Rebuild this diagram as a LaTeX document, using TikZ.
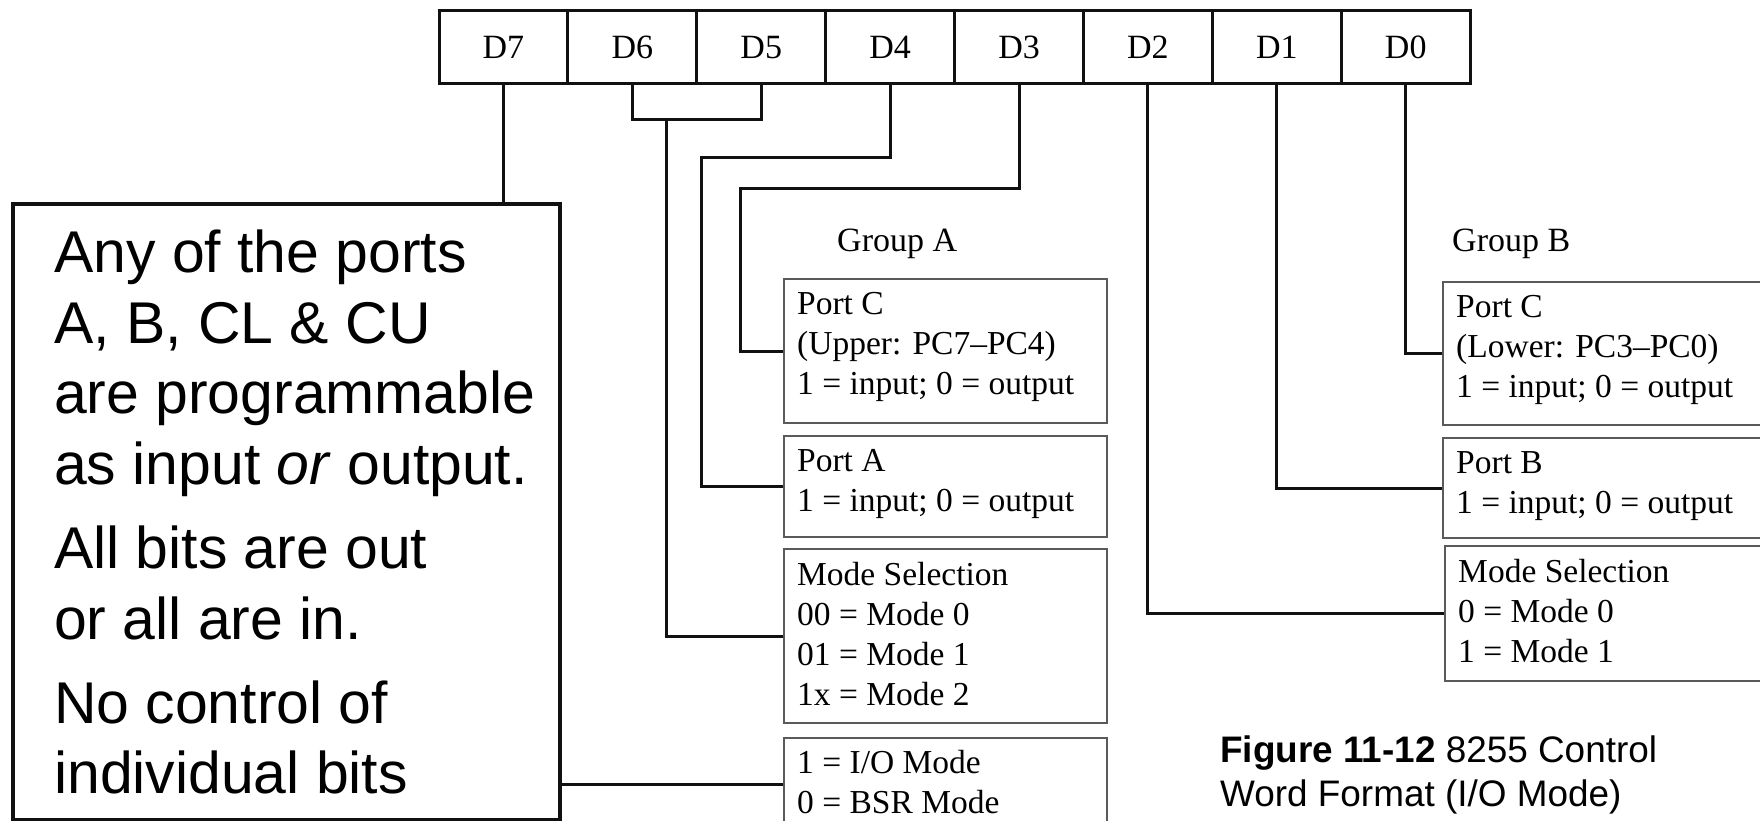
\documentclass[tikz,border=0pt]{standalone}
\usepackage{fontspec}
\setmainfont{Liberation Serif}
\setsansfont{Liberation Sans}
\usepackage{tikz}
\usetikzlibrary{positioning,calc}
\definecolor{CtrlInk}{HTML}{111111}
\definecolor{CtrlFrame}{HTML}{5A5A5A}

\begin{document}
\begin{tikzpicture}[x=1pt,y=-1pt,
    bitcell/.style={draw=CtrlInk, line width=3, minimum width=128.9, minimum height=73,
      inner sep=0, font=\fontsize{34}{40}\selectfont},
    fieldbox/.style={draw=CtrlFrame, line width=2, anchor=north west, inner sep=0,
      minimum width=323},
    fieldtext/.style={anchor=north west, inner sep=0, align=left,
      font=\fontsize{33.5}{40}\selectfont},
    grouplabel/.style={anchor=base west, inner sep=0, font=\fontsize{34}{40}\selectfont},
    wire/.style={draw=CtrlInk, line width=3}
  ]
  \useasboundingbox (0,0) rectangle (1760,821);
  \clip (0,0) rectangle (1760,821);

  % control word bits
  \foreach \b [count=\i from 0] in {7,6,5,4,3,2,1,0}
    \node[bitcell] (d\b) at ({503.45+128.9*\i},47.5) {D\b};

  % group A fields
  \node[grouplabel] (grpa) at (837,251) {Group A};
  \node[fieldbox, minimum height=144] (pca) at (783,278) {};
  \node[fieldbox, minimum height=101, below=11pt of pca] (pa) {};
  \node[fieldbox, minimum height=174, below=10pt of pa] (msa) {};
  \node[fieldbox, minimum height=92, below=13pt of msa] (ioa) {};
  \node[fieldtext] (pcatxt) at ([shift={(14,14)}]pca.north west)
    {Port C\\(Upper: PC7--PC4)\\1 = input; 0 = output};
  \node[fieldtext] (patxt) at ([shift={(14,14)}]pa.north west)
    {Port A\\1 = input; 0 = output};
  \node[fieldtext] (msatxt) at ([shift={(14,14)}]msa.north west)
    {Mode Selection\\00 = Mode 0\\01 = Mode 1\\1x = Mode 2};
  \node[fieldtext] (ioatxt) at ([shift={(14,13)}]ioa.north west)
    {1 = I/O Mode\\0 = BSR Mode};

  % group B fields
  \node[grouplabel] (grpb) at (1452,251) {Group B};
  \node[fieldbox, minimum width=340, minimum height=143] (pcb) at (1442,281) {};
  \node[fieldbox, minimum width=340, minimum height=100, below=11pt of pcb] (pb) {};
  \node[fieldbox, minimum width=340, minimum height=135] (msb) at (1444,545) {};
  \node[fieldtext] (pcbtxt) at ([shift={(14,14)}]pcb.north west)
    {Port C\\(Lower: PC3--PC0)\\1 = input; 0 = output};
  \node[fieldtext] (pbtxt) at ([shift={(14,14)}]pb.north west)
    {Port B\\1 = input; 0 = output};
  \node[fieldtext] (msbtxt) at ([shift={(14,14)}]msb.north west)
    {Mode Selection\\0 = Mode 0\\1 = Mode 1};

  % bit wiring
  \draw[wire] (d7.south) |- (ioa.west);
  \draw[wire] (d6.south) -- ++(0,34) -| (d5.south);
  \coordinate (mode) at (666,118);
  \draw[wire] (mode) |- (msa.west);
  \draw[wire] (d4.south) |- (701,158) |- (pa.west);
  \draw[wire] (d3.south) |- (740,189) |- (pca.west);
  \draw[wire] (d2.south) |- (msb.west);
  \draw[wire] (d1.south) |- (pb.west);
  \draw[wire] (d0.south) |- (pcb.west);

  % note over the D7 line
  \node[draw=CtrlInk, line width=4, fill=white, anchor=north west, inner sep=0,
    minimum width=547, minimum height=616] (note) at (11,202) {};
  \node[anchor=west, inner sep=0, align=left,
    font=\sffamily\fontsize{58.9}{70.7}\selectfont] (notetxt) at ([xshift=43]note.west)
    {Any of the ports\\A, B, CL \& CU\\are programmable\\as input \textit{or} output.\\[13.3pt]
     All bits are out\\or all are in.\\[13.3pt]No control of\\individual bits};

  \node[anchor=north west, inner sep=0, align=left,
    font=\sffamily\fontsize{36.9}{44}\selectfont] (caption) at (1220,736)
    {\textbf{Figure 11-12} 8255 Control\\Word Format (I/O Mode)};
\end{tikzpicture}
\end{document}
